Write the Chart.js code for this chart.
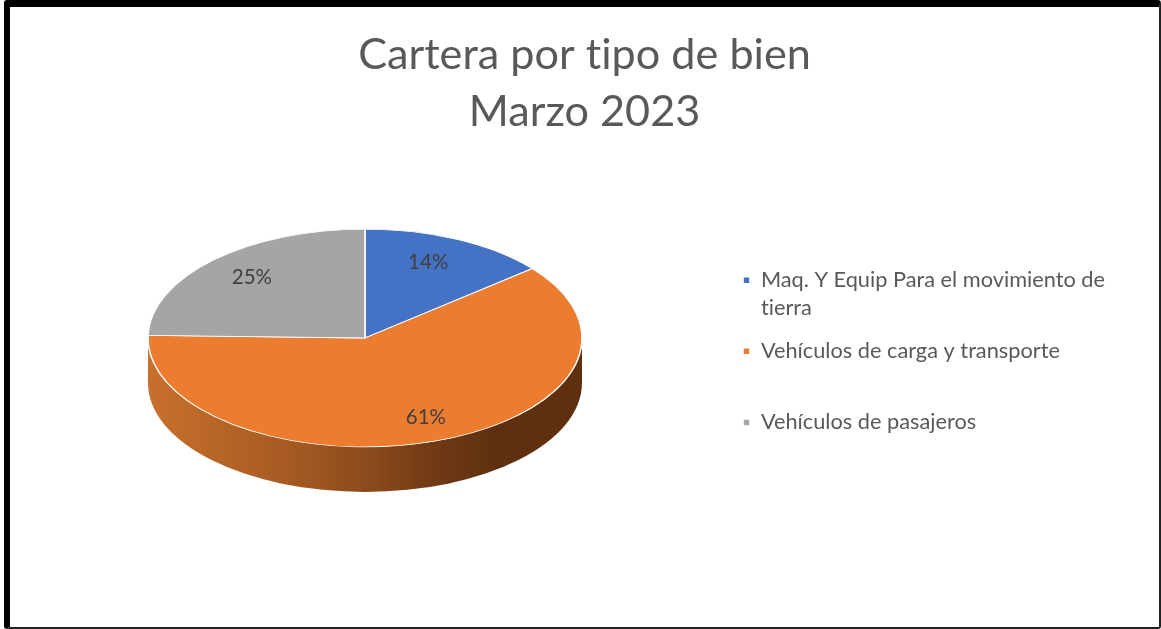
<!DOCTYPE html>
<html>
<head>
<meta charset="utf-8">
<title>Cartera por tipo de bien</title>
<script src="https://cdn.jsdelivr.net/npm/chart.js@4/dist/chart.umd.min.js"></script>
<style>
    html, body { margin: 0; padding: 0; background: #fff; overflow: hidden; }
    #wrap { position: relative; width: 1161px; height: 629px; }
    #frame {
        position: absolute; left: 4px; top: 0; right: 0; bottom: 0;
        border-style: solid; border-color: #000 #222 #222 #000;
        border-width: 7px 2px 2px 6px; border-radius: 3px;
        pointer-events: none;
    }
    canvas { display: block; }
</style>
</head>
<body>
<div id="wrap">
    <canvas id="chartCartera" width="1161" height="629"></canvas>
    <div id="frame"></div>
</div>
<script>
const titleLines = ['Cartera por tipo de bien', 'Marzo 2023'];
const categories = [
    ['Maq. Y Equip Para el movimiento de', 'tierra'],
    ['Vehículos de carga y transporte', ''],
    ['Vehículos de pasajeros', '']
];
const values = [14, 61.4, 24.6];
const colors = ['#4472C4', '#EB7C30', '#A5A5A5'];

// aplanado de la torta para simular el 3D de Excel
const SQUASH = 0.502;
const DEPTH = 45;
const RADIUS = 217;
const LABEL_RATIO = 0.76;
const LABEL_NUDGE = [[-7, -1], [7, 1], [2, -1]];
const LEGEND_LEFT = 728;
const LEGEND_SHIFT = 101;
const TITLE_SHIFT = 26;

const pie3d = {
    id: 'pie3d',
    afterLayout(chart) {
        // la leyenda y el titulo no quedan centrados con la torta en el original
        const legend = chart.legend;
        legend.left = LEGEND_LEFT;
        legend.top += LEGEND_SHIFT;
        legend.bottom += LEGEND_SHIFT;
        chart.titleBlock.left += TITLE_SHIFT;
        chart.titleBlock.right += TITLE_SHIFT;
    },
    beforeDraw(chart) {
        // sin ligaduras ("ti") como en el original
        chart.ctx.textRendering = 'optimizeSpeed';
    },
    beforeDatasetsDraw(chart) {
        const { ctx } = chart;
        const arcs = chart.getDatasetMeta(0).data;
        const { x: cx, y: cy } = arcs[0];

        const side = ctx.createLinearGradient(cx - RADIUS, 0, cx + RADIUS, 0);
        side.addColorStop(0, '#c8702c');
        side.addColorStop(0.33, '#a55a22');
        side.addColorStop(0.5, '#8c4b1c');
        side.addColorStop(0.66, '#703a14');
        side.addColorStop(0.8, '#5f3010');
        side.addColorStop(1, '#5f3010');

        arcs.forEach((arc) => {
            const start = Math.max(arc.startAngle, 0);
            const end = Math.min(arc.endAngle, Math.PI);
            if (start >= end) return;
            ctx.beginPath();
            ctx.ellipse(cx, cy, RADIUS, RADIUS * SQUASH, 0, start, end);
            ctx.ellipse(cx, cy + DEPTH, RADIUS, RADIUS * SQUASH, 0, end, start, true);
            ctx.closePath();
            ctx.fillStyle = side;
            ctx.fill();
        });

        ctx.save();
        ctx.translate(cx, cy);
        ctx.scale(1, SQUASH);
        ctx.translate(-cx, -cy);
    },
    afterDatasetsDraw(chart) {
        const { ctx } = chart;
        ctx.restore();

        const arcs = chart.getDatasetMeta(0).data;
        ctx.save();
        ctx.font = '20.5px Lato';
        ctx.fillStyle = '#404040';
        ctx.textAlign = 'center';
        ctx.textBaseline = 'middle';
        arcs.forEach((arc, i) => {
            const mid = (arc.startAngle + arc.endAngle) / 2;
            const x = arc.x + Math.cos(mid) * RADIUS * LABEL_RATIO + LABEL_NUDGE[i][0];
            const y = arc.y + Math.sin(mid) * RADIUS * LABEL_RATIO * SQUASH + LABEL_NUDGE[i][1];
            ctx.fillText(`${Math.round(values[i])}%`, x, y);
        });
        ctx.restore();
    }
};

new Chart(document.getElementById('chartCartera').getContext('2d'), {
    type: 'pie',
    data: {
        labels: categories,
        datasets: [{
            data: values,
            backgroundColor: colors,
            borderColor: '#ffffff',
            borderWidth: 1.6,
            radius: RADIUS,
            clip: false
        }]
    },
    options: {
        responsive: false,
        animation: false,
        layout: {
            padding: { left: 0, right: 44, bottom: 94 }
        },
        plugins: {
            title: {
                display: true,
                text: titleLines,
                color: '#595959',
                font: { family: 'Lato', size: 43.2, weight: 'normal', lineHeight: 1.32 },
                padding: { top: 27, bottom: 0 }
            },
            legend: {
                position: 'right',
                labels: {
                    color: '#595959',
                    font: { family: 'Lato', size: 21.75, lineHeight: 1.29 },
                    boxWidth: 7,
                    boxHeight: 7,
                    padding: 15
                }
            },
            tooltip: { enabled: false }
        }
    },
    plugins: [pie3d]
});
</script>
</body>
</html>
